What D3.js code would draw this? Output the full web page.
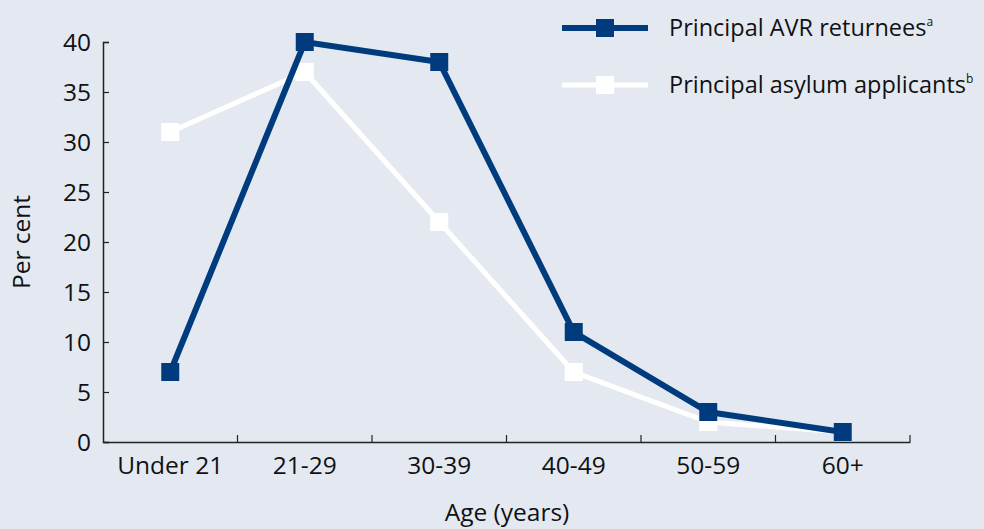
<!DOCTYPE html>
<html>
<head>
<meta charset="utf-8">
<script src="https://cdn.jsdelivr.net/npm/d3@7"></script>
<style>
  html, body { margin: 0; padding: 0; background: #e4e9f1; }
  svg { display: block; }
  text { font-family: "Open Sans", Lato, sans-serif; fill: #111; }
</style>
</head>
<body>
<script>
const categories = ["Under 21", "21-29", "30-39", "40-49", "50-59", "60+"];
const avrReturnees = [7, 40, 38, 11, 3, 1];
const asylumApplicants = [31, 37, 22, 7, 2, 1];
const yTicks = [0, 5, 10, 15, 20, 25, 30, 35, 40];
const seriesNames = ["Principal AVR returnees", "Principal asylum applicants"];
const seriesSup = ["a", "b"];

const W = 984, H = 529;
const blue = "#003c7d", white = "#ffffff";
const FONT = "'Open Sans', Lato, sans-serif";
const FS = "24.5px";
const LFS = "23.5px";

const svg = d3.select("body").append("svg").attr("width", W).attr("height", H);
svg.append("rect").attr("width", W).attr("height", H).attr("fill", "#e4e9f1");

const x = d3.scaleBand().domain(categories).range([103, 910]).padding(0);
const y = d3.scaleLinear().domain([0, 40]).range([442, 42]);

// Y axis
const yAxis = svg.append("g").attr("transform", "translate(103,0)")
  .call(d3.axisRight(y).tickValues(yTicks).tickSize(6).tickFormat(d3.format("d")));
yAxis.select(".domain").attr("stroke", "#222").attr("stroke-width", 1.5);
yAxis.selectAll(".tick line").attr("stroke", "#222").attr("stroke-width", 1.2);
yAxis.selectAll(".tick text").attr("x", -12).attr("text-anchor", "end")
  .attr("dy", "0.36em").style("font-size", FS).style("font-family", FONT)
  .style("font-weight", 500).attr("fill", "#111");

// X axis
const xAxis = svg.append("g").attr("transform", "translate(0,442)")
  .call(d3.axisBottom(x).tickSize(0).tickSizeOuter(0));
xAxis.select(".domain").attr("stroke", "#222").attr("stroke-width", 1.5);
xAxis.selectAll(".tick text").attr("y", 15).attr("dy", "0.71em")
  .style("font-size", FS).style("font-family", FONT)
  .style("font-weight", 500).attr("fill", "#111");
// tick marks between categories
const boundaries = categories.map(c => x(c) + x.bandwidth());
svg.append("g").selectAll("line").data(boundaries).enter().append("line")
  .attr("x1", d => d).attr("x2", d => d).attr("y1", 442).attr("y2", 435)
  .attr("stroke", "#222").attr("stroke-width", 1.2);

// Axis titles
svg.append("text").attr("transform", "translate(30,242) rotate(-90)")
  .attr("text-anchor", "middle").style("font-size", FS).style("font-weight", 500).text("Per cent");
svg.append("text").attr("x", 507).attr("y", 521)
  .attr("text-anchor", "middle").style("font-size", FS).style("font-weight", 500).text("Age (years)");

// Lines
const cx = c => x(c) + x.bandwidth() / 2;
const line = d3.line().x((d, i) => cx(categories[i])).y(d => y(d));
const ms = 18;

function drawSeries(vals, color, width) {
  svg.append("path").datum(vals).attr("d", line)
    .attr("fill", "none").attr("stroke", color).attr("stroke-width", width);
  svg.append("g").selectAll("rect").data(vals).enter().append("rect")
    .attr("x", (d, i) => cx(categories[i]) - ms / 2)
    .attr("y", d => y(d) - ms / 2)
    .attr("width", ms).attr("height", ms).attr("fill", color);
}
drawSeries(asylumApplicants, white, 5);
drawSeries(avrReturnees, blue, 6);

// Legend
const legend = [
  { name: seriesNames[0], sup: seriesSup[0], color: blue, w: 6, y: 28 },
  { name: seriesNames[1], sup: seriesSup[1], color: white, w: 5, y: 85 }
];
legend.forEach(l => {
  svg.append("line").attr("x1", 562).attr("x2", 648).attr("y1", l.y).attr("y2", l.y)
    .attr("stroke", l.color).attr("stroke-width", l.w);
  svg.append("rect").attr("x", 605 - ms / 2).attr("y", l.y - ms / 2)
    .attr("width", ms).attr("height", ms).attr("fill", l.color);
  const t = svg.append("text").attr("x", 669).attr("y", l.y + 8)
    .style("font-size", LFS).style("font-weight", 500);
  t.append("tspan").text(l.name);
  t.append("tspan").attr("dy", -10).style("font-size", "12px").text(l.sup);
});
</script>
</body>
</html>
